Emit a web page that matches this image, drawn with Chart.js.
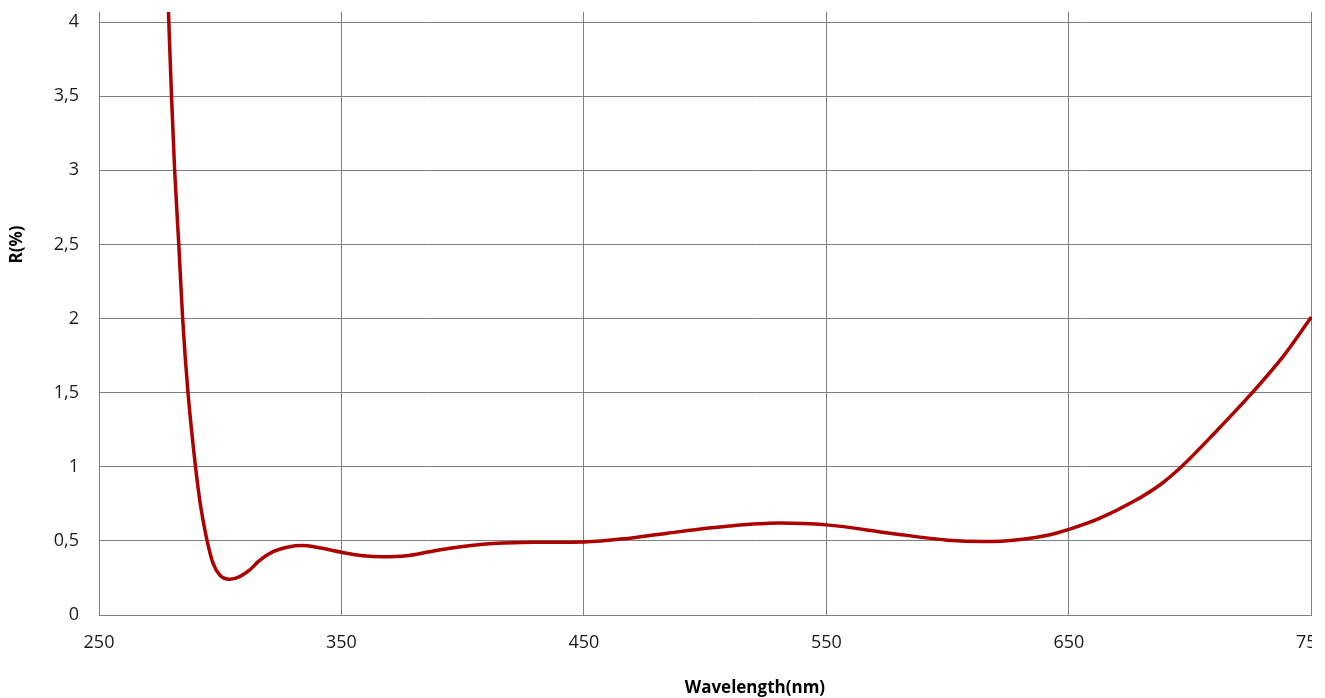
<!DOCTYPE html>
<html>
<head>
<meta charset="utf-8">
<script src="https://cdn.jsdelivr.net/npm/chart.js@4/dist/chart.umd.min.js"></script>
<style>
  html, body { margin: 0; padding: 0; background: #fff; overflow: hidden; }
  #crop { position: absolute; left: 0; top: 12px; width: 1312px; height: 686px; overflow: hidden; }
  #chart { position: absolute; left: 0; top: -169px; }
</style>
</head>
<body>
<div id="crop"><canvas id="chart" width="1440" height="862"></canvas></div>
<script>
// wavelength (nm) and reflectance R (%)
const wavelengths = [277.5, 278.8, 279.9, 281.2, 282.9, 284.5, 286.7, 289.8, 291.5, 292.9,
  294.6, 297.0, 299.8, 303.9, 308, 312.2, 316, 321.8, 328.7, 333.5,
  339.7, 350, 358.9, 367.2, 376.8, 386.4, 394.7, 410.8, 430, 450,
  467, 484.4, 510, 530.3, 550, 576.3, 600, 615, 630, 641.7,
  650, 662.6, 676.6, 687.5, 696.4, 710.8, 725.9, 738.3, 750]
const reflectance = [4.60, 4.00, 3.50, 3.00, 2.50, 2.00, 1.50, 1.00, 0.78, 0.64,
  0.50, 0.35, 0.27, 0.241, 0.259, 0.304, 0.365, 0.427, 0.461, 0.468,
  0.457, 0.423, 0.40, 0.393, 0.40, 0.427, 0.45, 0.48, 0.49, 0.493,
  0.515, 0.552, 0.60, 0.62, 0.608, 0.552, 0.505, 0.495, 0.51, 0.54,
  0.578, 0.652, 0.765, 0.877, 1.00, 1.24, 1.505, 1.743, 2.01]

const xTicks = [250, 350, 450, 550, 650, 750]
const yTicks = [0, 0.5, 1, 1.5, 2, 2.5, 3, 3.5, 4, 4.5, 5]

const gridColor = "#7f7f7f"
const textColor = "#1a1a1a"
const fontFamily = "'Open Sans', 'Noto Sans', sans-serif"

const comma = v => String(v).replace(".", ",")

new Chart(document.getElementById("chart"), {
  type: "line",
  data: {
    datasets: [{
      label: "R(%)",
      data: wavelengths.map((w, i) => ({ x: w, y: reflectance[i] })),
      borderColor: "#ad0000",
      borderWidth: 3.5,
      pointRadius: 0,
      cubicInterpolationMode: "monotone",
      fill: false
    }]
  },
  options: {
    responsive: false,
    animation: false,
    devicePixelRatio: 1,
    layout: { padding: { left: 0, right: 29.2, top: 0, bottom: 0 } },
    plugins: {
      legend: { display: false },
      tooltip: { enabled: false }
    },
    scales: {
      x: {
        type: "linear",
        min: 250,
        max: 791,
        afterBuildTicks: s => { s.ticks = xTicks.map(v => ({ value: v })) },
        afterFit: s => { s.height = 90 },
        grid: { color: gridColor, lineWidth: 1, drawTicks: false },
        border: { color: gridColor, width: 1 },
        ticks: {
          padding: 17,
          color: textColor,
          font: { family: fontFamily, size: 18 },
          maxRotation: 0,
          autoSkip: false,
          callback: v => comma(v)
        },
        title: {
          display: true,
          text: "Wavelength(nm)",
          color: "#000",
          font: { family: fontFamily, size: 17, weight: "bold" },
          padding: { top: 7, bottom: 7 }
        }
      },
      y: {
        min: 0,
        max: 5,
        afterBuildTicks: s => { s.ticks = yTicks.map(v => ({ value: v })) },
        afterFit: s => { s.width = 99 },
        grid: { color: gridColor, lineWidth: 1, drawTicks: false },
        border: { color: gridColor, width: 1 },
        ticks: {
          padding: 20,
          color: textColor,
          font: { family: fontFamily, size: 18 },
          autoSkip: false,
          callback: v => comma(v)
        },
        title: {
          display: true,
          text: "R(%)",
          color: "#000",
          font: { family: fontFamily, size: 17, weight: "bold" },
          padding: { top: 7, bottom: 7 }
        }
      }
    }
  }
})
</script>
</body>
</html>
